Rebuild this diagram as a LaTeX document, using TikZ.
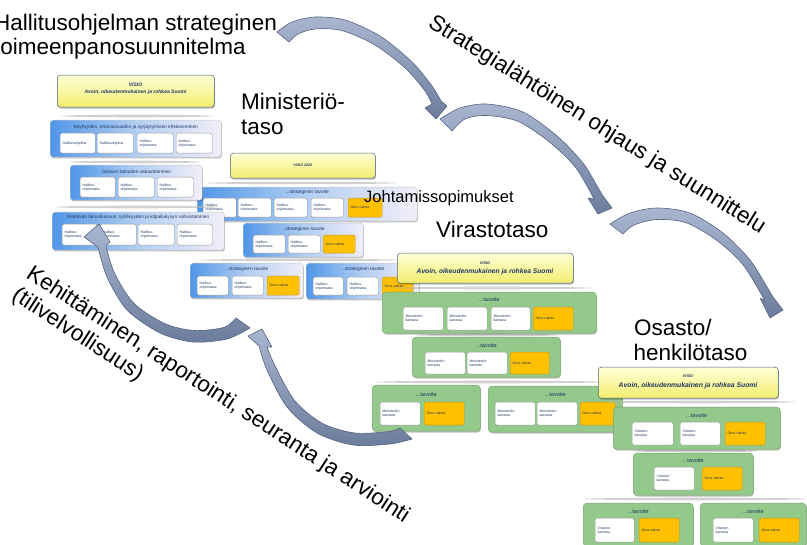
\documentclass[tikz,border=0pt]{standalone}
\usepackage{fontspec}
\setmainfont{Liberation Sans}
\usetikzlibrary{shadows}
\definecolor{navy}{RGB}{32,56,100}
\definecolor{bluA}{RGB}{80,150,232}
\definecolor{bluB}{RGB}{178,206,242}
\definecolor{bluC}{RGB}{242,238,249}
\definecolor{grnF}{RGB}{148,201,140}
\definecolor{grnD}{RGB}{118,168,108}
\definecolor{orgF}{RGB}{255,192,0}
\definecolor{orgD}{RGB}{196,150,30}
\definecolor{yelT}{RGB}{255,255,214}
\definecolor{yelB}{RGB}{242,238,110}
\definecolor{yelD}{RGB}{70,95,125}
\definecolor{arrT}{RGB}{168,182,208}
\definecolor{arrB}{RGB}{108,124,156}
\definecolor{arrD}{RGB}{86,100,130}
\tikzset{
  shd/.style={drop shadow={shadow xshift=0.7pt,shadow yshift=-1.3pt,fill=black,opacity=0.25}},
  ybox/.style={shd,draw=yelD,line width=0.5pt,rounded corners=3pt,top color=yelT,bottom color=yelB},
  bbox/.style={shd,draw=black!22,line width=0.4pt,rounded corners=3pt,left color=bluA,right color=bluC,middle color=bluB},
  gbox/.style={shd,draw=grnD,line width=0.5pt,rounded corners=3.5pt,fill=grnF},
  wbox/.style={draw=black!40,line width=0.4pt,rounded corners=1.5pt,fill=white},
  obox/.style={draw=orgD,line width=0.4pt,rounded corners=1.5pt,fill=orgF},
  tt/.style={font=\fontsize{3.5}{4.1}\selectfont,text=navy,align=left,inner sep=0pt},
  bttl/.style={font=\fontsize{4.8}{5.5}\selectfont,text=navy,inner sep=0pt},
  gttl/.style={font=\fontsize{5.6}{6.5}\selectfont,text=navy,inner sep=0pt},
  vis/.style={font=\bfseries\itshape\fontsize{#1}{#1}\selectfont,text=navy,inner sep=0pt},
  lbl/.style={font=\fontsize{22.5}{26}\selectfont,inner sep=0pt,anchor=base west},
  slv/.style={fill=black!30,opacity=0.6},
  arr/.style={top color=arrT,bottom color=arrB,draw=arrD,line width=0.6pt,line join=round}
}
\newcommand\bx[6]{\node[#6,anchor=north west,inner sep=0pt,minimum width=#4-#2,minimum height=#5-#3] (#1) at (#2,#3) {};}
\newcommand\ib[6]{\bx{#1}{#2}{#3}{#4}{#5}{wbox}\node[tt,anchor=west] (#1t) at ([xshift=2.5pt]#1.west) {#6};}
\newcommand\ob[5]{\bx{#1}{#2}{#3}{#4}{#5}{obox}\node[tt,anchor=west] (#1t) at ([xshift=2.5pt]#1.west) {Oma valinta};}
\newcommand\grp[9]{\bx{#1}{#2}{#3}{#4}{#5}{#6}\node[#7] (#1t) at ([yshift=-#8pt]#1.north) {#9};}
\newcommand\txHO{Hallitus-\\ohjelmasta}
\newcommand\txMK{Ministeriön\\kartasta}
\newcommand\txVK{Viraston\\kartasta}
\begin{document}
\begin{tikzpicture}[x=1pt,y=-1pt]
\useasboundingbox (0,0) rectangle (807,545);

% ---------------- middle (strategic) block ----------------
\fill[slv] (302,183) ellipse [x radius=95pt, y radius=1.2pt];
\fill[slv] (300,260) ellipse [x radius=100pt, y radius=1.2pt];
\bx{mmv}{230}{153}{375}{178}{ybox}
\node[vis=3.6] (mmvt) at (mmv.center) {VISIO 2020};
\grp{sa}{197}{187}{417}{221}{bbox}{bttl}{5.5}{...strateginen tavoite}
\ib{sa1}{203}{198}{236}{217}{\txHO}
\ib{sa2}{238}{198}{271}{217}{\txHO}
\ib{sa3}{274}{198}{307}{217}{\txHO}
\ib{sa4}{311}{198}{343}{217}{\txHO}
\ob{sa5}{348}{198}{382}{217}
\grp{sb}{243}{223}{363}{257}{bbox}{bttl}{6}{...strateginen tavoite}
\ib{sb1}{253}{235}{285}{253}{\txHO}
\ib{sb2}{288}{235}{320}{253}{\txHO}
\ob{sb3}{323}{235}{355}{253}
\grp{sc}{190}{263}{303}{298}{bbox}{bttl}{6.5}{...strateginen tavoite}
\ib{sc1}{197}{276}{228}{295}{\txHO}
\ib{sc2}{232}{276}{263}{295}{\txHO}
\ob{sc3}{267}{276}{299}{295}
\grp{sd}{306}{263}{419}{299}{bbox}{bttl}{6.5}{...strateginen tavoite}
\ib{sd1}{313}{277}{343}{295}{\txHO}
\ib{sd2}{347}{277}{378}{295}{\txHO}
\ob{sd3}{382}{277}{413}{295}

% ---------------- ministry block ----------------
\fill[slv] (137,116) ellipse [x radius=76pt, y radius=1.3pt];
\fill[slv] (135,162) ellipse [x radius=66pt, y radius=1.3pt];
\fill[slv] (137,207) ellipse [x radius=82pt, y radius=1.3pt];
\bx{mv}{57}{75}{214}{107}{ybox}
\node[vis=5] (mvt1) at (135.5,85) {VISIO};
\node[vis=5] (mvt2) at (135.5,92) {Avoin, oikeudenmukainen ja rohkea Suomi};
\grp{m1}{50}{120}{221}{157}{bbox}{bttl}{7}{Köyhyyden, eriarvoisuuden ja syrjäytymisen ehkäiseminen}
\ib{m11}{60}{133}{95}{153}{Hallitusohjelma}
\ib{m12}{97}{133}{133}{153}{Hallitusohjelma}
\ib{m13}{137}{133}{173}{153}{\txHO}
\ib{m14}{176}{133}{212}{153}{\txHO}
\grp{m2}{70}{165}{202}{200}{bbox}{bttl}{6.5}{Julkisen talouden vakauttaminen}
\ib{m21}{80}{177}{115}{197}{\txHO}
\ib{m22}{118}{177}{154}{197}{\txHO}
\ib{m23}{157}{177}{193}{197}{\txHO}
\grp{m3}{52}{212}{224}{250}{bbox}{bttl}{5.5}{Kestävän talouskasvun, työllisyyden ja kilpailukyvyn vahvistaminen}
\ib{m31}{62}{224}{97}{245}{\txHO}
\ib{m32}{100}{224}{136}{245}{\txHO}
\ib{m33}{138}{224}{174}{245}{\txHO}
\ib{m34}{177}{224}{212}{245}{\txHO}

% ---------------- agency block ----------------
\fill[slv] (492,288) ellipse [x radius=100pt, y radius=1.3pt];
\fill[slv] (487,335) ellipse [x radius=72pt, y radius=1.3pt];
\fill[slv] (490,382) ellipse [x radius=115pt, y radius=1.3pt];
\bx{vv}{397}{253}{573}{283}{ybox}
\node[vis=3.8] (vvt1) at (485,263) {VISIO};
\node[vis=6.7] (vvt2) at (485,272) {Avoin, oikeudenmukainen ja rohkea Suomi};
\grp{g1}{382}{292}{596}{333}{gbox}{gttl}{8}{...tavoite}
\ib{g11}{403}{307}{443}{330}{\txMK}
\ib{g12}{447}{307}{487}{330}{\txMK}
\ib{g13}{491}{307}{530}{330}{\txMK}
\ob{g14}{533}{307}{573}{330}
\grp{g2}{412}{337}{560}{377}{gbox}{gttl}{8}{...tavoite}
\ib{g21}{425}{352}{465}{374}{\txMK}
\ib{g22}{467}{352}{507}{374}{\txMK}
\ob{g23}{510}{352}{549}{374}
\grp{g3}{372}{385}{480}{431}{gbox}{gttl}{9}{...tavoite}
\ib{g31}{380}{402}{420}{425}{\txMK}
\ob{g32}{424}{402}{464}{425}
\grp{g4}{488}{386}{622}{432}{gbox}{gttl}{8}{...tavoite}
\ib{g41}{495}{402}{535}{425}{\txMK}
\ib{g42}{537}{402}{577}{425}{\txMK}
\ob{g43}{580}{402}{615}{425}

% ---------------- department block ----------------
\fill[slv] (700,402) ellipse [x radius=95pt, y radius=1.3pt];
\fill[slv] (695,451) ellipse [x radius=62pt, y radius=1.3pt];
\fill[slv] (695,499) ellipse [x radius=112pt, y radius=1.3pt];
\bx{ov}{598}{367}{778}{398}{ybox}
\node[vis=3.8] (ovt1) at (688,376) {VISIO};
\node[vis=6.8] (ovt2) at (688,386) {Avoin, oikeudenmukainen ja rohkea Suomi};
\grp{o1}{613}{407}{780}{449}{gbox}{gttl}{8}{...tavoite}
\ib{o11}{632}{422}{673}{445}{\txVK}
\ib{o12}{680}{422}{720}{445}{\txVK}
\ob{o13}{725}{422}{765}{445}
\grp{o2}{633}{453}{753}{495}{gbox}{gttl}{7.5}{...tavoite}
\ib{o21}{654}{467}{694}{490}{\txVK}
\ob{o22}{702}{467}{742}{490}
\grp{o3}{583}{503}{693}{546}{gbox}{gttl}{8}{...tavoite}
\ib{o31}{595}{518}{634}{542}{\txVK}
\ob{o32}{639}{518}{679}{542}
\grp{o4}{700}{503}{806}{546}{gbox}{gttl}{8}{...tavoite}
\ib{o41}{713}{518}{753}{542}{\txVK}
\ob{o42}{759}{518}{799}{542}

% ---------------- labels ----------------
\node[lbl] (t1) at (-6,31) {Hallitusohjelman strateginen};
\node[lbl] (t2) at (-6,55) {toimeenpanosuunnitelma};
\node[lbl] (min1) at (241,110) {Ministeriö-};
\node[lbl] (min2) at (241,135) {taso};
\node[lbl] (vir) at (436,238) {Virastotaso};
\node[lbl] (os1) at (634,336) {Osasto/};
\node[lbl] (os2) at (633.5,361) {henkilötaso};
\node[lbl,font=\fontsize{16.5}{20}\selectfont] (joh) at (364,203) {Johtamissopimukset};
\node[lbl,rotate=-32] (str) at (427,26) {Strategialähtöinen ohjaus ja suunnittelu};
\node[lbl,rotate=-33] (keh1) at (25,277) {Kehittäminen, raportointi, seuranta ja arviointi};
\node[lbl,rotate=-33] (keh2) at (10.8,298.8) {(tilivelvollisuus)};

% ---------------- curved block arrows ----------------
\path[arr] plot[smooth] coordinates {(277,32) (292,22) (315,17) (345,20) (380,36) (412,62) (432,86) (441,101)}
  -- (447,106) -- (436,119) -- (425,108)
  -- plot[smooth] coordinates {(432,104) (425,91) (405.6,68.4) (375,45) (342,30.6) (315,29) (298,34) (289,42)} -- cycle;
\path[arr] plot[smooth] coordinates {(440,119) (460,108) (487,104) (523,112) (557,136) (583,163) (597,186) (603,196)}
  -- (612,208) -- (598,214) -- (588,198)
  -- plot[smooth] coordinates {(594,199) (576,168) (550.6,143) (518.6,121.6) (487,115.5) (465,119) (452,131)} -- cycle;
\path[arr] plot[smooth] coordinates {(610,224) (630,213) (657,208) (690,213) (723,233) (750,260) (767,287) (773,297)}
  -- (783,310) -- (770,318) -- (760,298)
  -- plot[smooth] coordinates {(765,301) (743.5,265.4) (717,240.5) (686.3,222.8) (657,219.5) (634,225) (623,234)} -- cycle;
\path[arr] plot[smooth] coordinates {(250,328) (227,339) (193,342) (160,333) (127,310) (107,277) (98,247)}
  -- (84,237) -- (99,224) -- (110,242)
  -- plot[smooth] coordinates {(106,246) (114.6,273.4) (134,303.4) (164.6,323.5) (194,330.5) (224,327.4) (236,318)} -- cycle;
\path[arr] plot[smooth] coordinates {(412,439) (390,444) (353,445) (317,433) (287,407) (267,370) (259,346)}
  -- (248,336) -- (262,329) -- (272,347)
  -- plot[smooth] coordinates {(267,347) (275.2,366.3) (294.8,400.8) (322.5,423.4) (354.8,433) (388.7,431.6) (400,428)} -- cycle;
\end{tikzpicture}
\end{document}
